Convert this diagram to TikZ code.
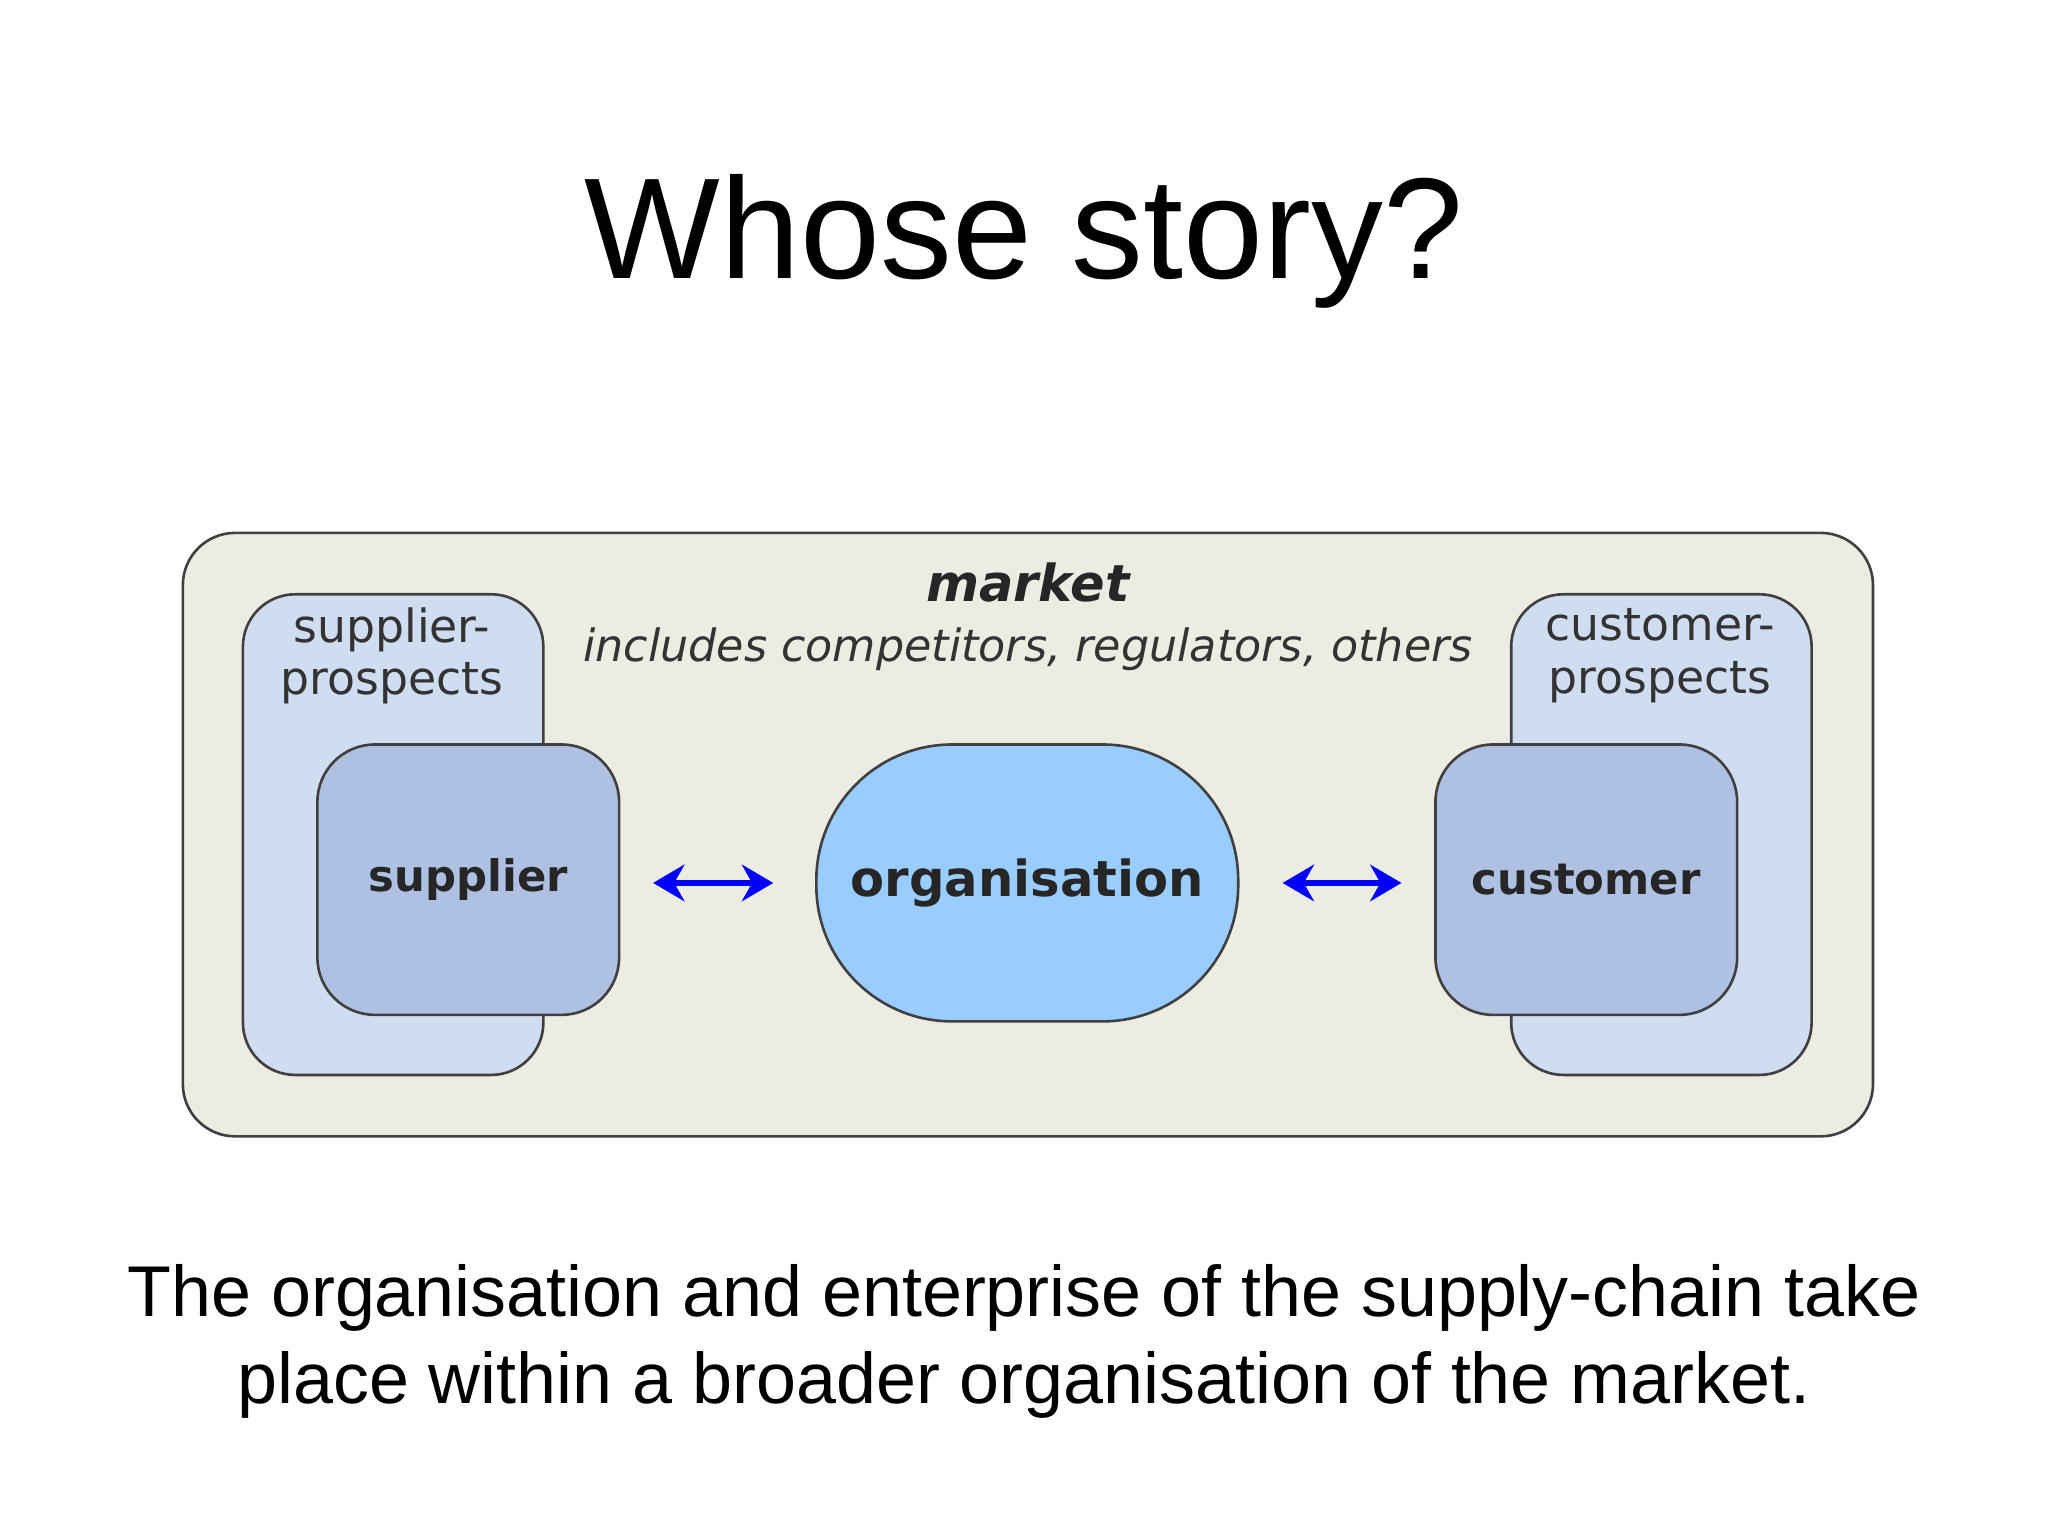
\documentclass[tikz,border=0pt]{standalone}
\usepackage{fontspec}
\setmainfont{Liberation Sans}
\newfontfamily\diag{DejaVu Sans}
\usetikzlibrary{arrows.meta}
\definecolor{mkt}{HTML}{ECECE2}
\definecolor{pros}{HTML}{D0DCF0}
\definecolor{role}{HTML}{AFC1E3}
\definecolor{org}{HTML}{99CCFF}
\tikzset{
  box/.style={draw=black!75, line width=1pt},
  dlabel/.style={font=\diag\fontsize{17.5}{20}\selectfont, text=black!80, align=center},
  blabel/.style={font=\diag\bfseries\fontsize{16.6}{20}\selectfont, text=black!85},
  link/.style={draw=blue, line width=2.5pt, {Stealth[length=12pt,width=14pt]}-{Stealth[length=12pt,width=14pt]}}
}
\begin{document}
\begin{tikzpicture}[x=0.5pt,y=-0.5pt]
\useasboundingbox (0,0) rectangle (1568,1176);
\fill[white] (0,0) rectangle (1568,1176);
\node (title) at (784,185) {\fontsize{55}{66}\selectfont Whose story?};
\draw[box, fill=mkt, rounded corners=20pt] (140,408) rectangle (1434,870);
\node[font=\diag\bfseries\itshape\fontsize{19.5}{24}\selectfont, text=black!85] (mk) at (787,446) {market};
\node[dlabel, font=\diag\itshape\fontsize{17}{21}\selectfont] (inc) at (787,497) {includes competitors, regulators, others};
\draw[box, fill=pros, rounded corners=20pt] (186,455) rectangle (416,823);
\node[dlabel] (sp) at (300,502) {supplier-\\prospects};
\draw[box, fill=pros, rounded corners=20pt] (1157,455) rectangle (1387,823);
\node[dlabel] (cp) at (1271,502) {customer-\\prospects};
\node[box, fill=role, rounded corners=22pt, minimum width=115.5pt, minimum height=103.5pt, blabel] (sup) at (358.5,673.5) {supplier};
\node[box, fill=role, rounded corners=22pt, minimum width=115.5pt, minimum height=103.5pt, blabel] (cus) at (1214.5,673.5) {customer};
\node[box, fill=org, rounded corners=52pt, minimum width=161.5pt, minimum height=106pt, font=\diag\bfseries\fontsize{19}{24}\selectfont, text=black!85] (org) at (786.5,676) {organisation};
\coordinate (a1) at (500,676); \coordinate (a2) at (592,676);
\coordinate (b1) at (982,676); \coordinate (b2) at (1073,676);
\draw[link] (a1) -- (a2);
\draw[link] (b1) -- (b2);
\node[align=center, font=\fontsize{27.5}{33}\selectfont] (bottom) at (784,1027) {The organisation and enterprise of the supply-chain take\\place within a broader organisation of the market.};
\end{tikzpicture}
\end{document}
